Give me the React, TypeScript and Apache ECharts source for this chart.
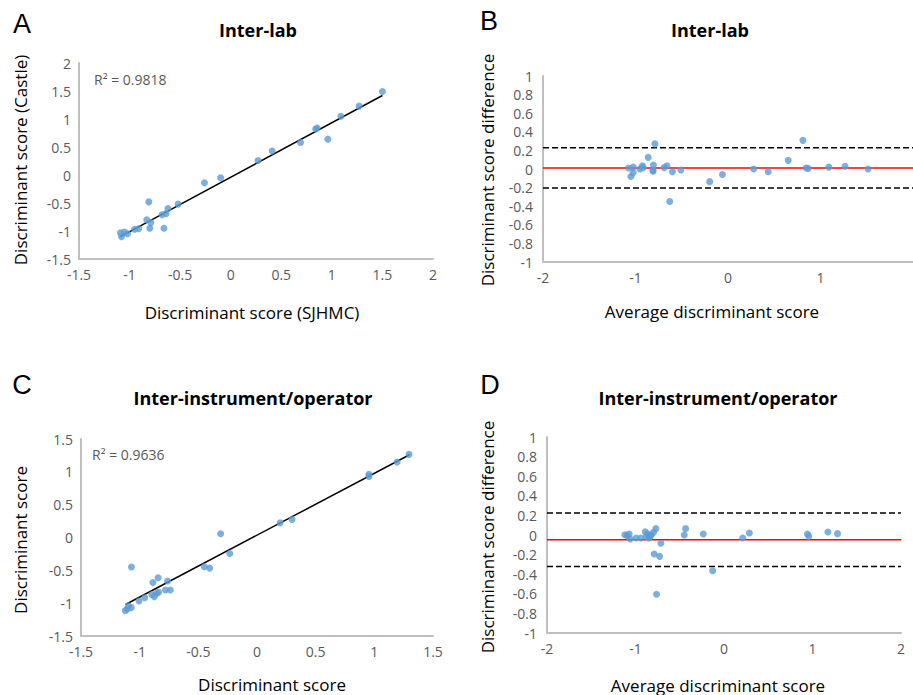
import React, { useEffect, useRef } from "react";
import * as echarts from "echarts";

// Panel A: Inter-lab scatter (SJHMC vs Castle)
const aX = [1.50, 1.27, 1.09, 0.855, 0.84, 0.96, 0.69, 0.41, 0.27, -0.10, -0.26, -0.52, -0.62, -0.64, -0.68, -0.66, -0.81, -0.83, -0.79, -0.80, -0.91, -0.95, -1.02, -1.05, -1.09, -1.08];
const aY = [1.49, 1.23, 1.05, 0.84, 0.82, 0.64, 0.58, 0.43, 0.26, -0.05, -0.14, -0.52, -0.60, -0.69, -0.71, -0.95, -0.48, -0.80, -0.85, -0.95, -0.96, -0.97, -1.05, -1.02, -1.03, -1.10];
const aTrend = [[-1.09, -1.10], [1.50, 1.42]];
const aR2 = "R² = 0.9818";

// Panel B: Inter-lab Bland-Altman
const bX = [-1.075, -1.025, -1.05, -1.025, -0.953, -0.925, -0.917, -0.863, -0.806, -0.81, -0.81, -0.79, -0.69, -0.66, -0.60, -0.63, -0.51, -0.198, -0.06, 0.277, 0.435, 0.651, 0.81, 0.845, 0.867, 1.09, 1.266, 1.514];
const bY = [0.01, 0.02, -0.08, -0.04, 0.0, 0.035, 0.015, 0.125, 0.043, -0.025, -0.015, 0.27, 0.015, 0.035, -0.03, -0.35, -0.01, -0.136, -0.06, 0.0, -0.03, 0.093, 0.308, 0.01, 0.005, 0.02, 0.03, 0.0];
const bMean = 0.01;
const bUpper = 0.228;
const bLower = -0.205;

// Panel C: Inter-instrument/operator scatter
const cX = [1.296, 1.194, 0.954, 0.954, 0.197, 0.299, -0.31, -0.232, -0.449, -0.403, -1.07, -0.843, -0.887, -0.762, -0.78, -0.739, -0.838, -0.855, -0.896, -0.875, -0.957, -1.006, -1.072, -1.096, -1.122, -1.107];
const cY = [1.266, 1.149, 0.962, 0.93, 0.223, 0.273, 0.056, -0.243, -0.446, -0.466, -0.45, -0.613, -0.684, -0.663, -0.80, -0.80, -0.835, -0.85, -0.87, -0.90, -0.917, -0.967, -1.068, -1.038, -1.114, -1.089];
const cTrend = [[-1.12, -1.02], [1.30, 1.26]];
const cR2 = "R² = 0.9636";

// Panel D: Inter-instrument/operator Bland-Altman
const dX = [-1.12, -1.094, -1.072, -1.06, -0.992, -0.94, -0.89, -0.879, -0.86, -0.849, -0.834, -0.823, -0.796, -0.77, -0.789, -0.728, -0.713, -0.762, -0.449, -0.434, -0.234, -0.128, 0.211, 0.287, 0.943, 0.958, 1.174, 1.283];
const dY = [0.003, -0.007, 0.01, -0.04, -0.03, -0.03, 0.034, -0.014, 0.01, -0.03, -0.014, 0.0, 0.027, 0.065, -0.194, -0.218, -0.085, -0.605, 0.0, 0.065, 0.01, -0.364, -0.03, 0.02, 0.01, -0.014, 0.031, 0.014];
const dMean = -0.048;
const dUpper = 0.224;
const dLower = -0.322;

const titles = ["Inter-lab", "Inter-lab", "Inter-instrument/operator", "Inter-instrument/operator"];
const letters = ["A", "B", "C", "D"];
const xNames = ["Discriminant score (SJHMC)", "Average discriminant score", "Discriminant score", "Average discriminant score"];
const yNames = ["Discriminant score (Castle)", "Discriminant score difference", "Discriminant score", "Discriminant score difference"];

const FONT = "'Open Sans', 'Noto Sans', sans-serif";
const DOT = "#5b9bd5";
const AXIS = "#bfbfbf";
const TICK = "#595959";

const zip = (xs: number[], ys: number[]) => xs.map((x, i) => [x, ys[i]]);

export default function App() {
  const ref = useRef<HTMLDivElement>(null);
  useEffect(() => {
    document.body.style.margin = "0";
    if (!ref.current) return;
    const chart = echarts.init(ref.current, undefined, { renderer: "svg" });

    const grids = [
      { left: 79, top: 63, width: 354, height: 196 },
      { left: 543, top: 76, width: 372, height: 186 },
      { left: 81, top: 439, width: 352, height: 197 },
      { left: 547, top: 437, width: 354, height: 196 },
    ];
    const xr = [[-1.5, 2, 0.5], [-2, 2, 1], [-1.5, 1.5, 0.5], [-2, 2, 1]];
    const yr = [[-1.5, 2, 0.5], [-1, 1, 0.2], [-1.5, 1.5, 0.5], [-1, 1, 0.2]];

    const axisCommon = {
      axisLine: { show: true, onZero: false, lineStyle: { color: AXIS, width: 2 } },
      axisTick: { show: false },
      splitLine: { show: false },
    };

    const xAxis = xr.map((r, i) => ({
      type: "value",
      gridIndex: i,
      min: r[0],
      max: r[1],
      interval: r[2],
      ...axisCommon,
      axisLabel: { color: TICK, fontSize: 14, fontFamily: FONT, margin: 8, showMaxLabel: i !== 1 },
    }));
    const yAxis = yr.map((r, i) => ({
      type: "value",
      gridIndex: i,
      min: r[0],
      max: r[1],
      interval: r[2],
      ...axisCommon,
      axisLabel: { color: TICK, fontSize: 14, fontFamily: FONT, margin: i % 2 === 1 ? 10 : 8 },
    }));

    const scatter = (data: number[][], idx: number) => ({
      type: "scatter",
      xAxisIndex: idx,
      yAxisIndex: idx,
      data,
      symbolSize: 7,
      itemStyle: { color: DOT },
      z: 3,
    });
    const line = (data: number[][], idx: number, color: string, type: string) => ({
      type: "line",
      xAxisIndex: idx,
      yAxisIndex: idx,
      data,
      symbol: "none",
      lineStyle: { color, width: 1.5, type },
      z: 2,
    });

    const series = [
      scatter(zip(aX, aY), 0),
      line(aTrend, 0, "#000", "solid"),
      line([[-2, bMean], [2, bMean]], 1, "#ff0000", "solid"),
      line([[-2, bUpper], [2, bUpper]], 1, "#000", "dashed"),
      line([[-2, bLower], [2, bLower]], 1, "#000", "dashed"),
      scatter(zip(bX, bY), 1),
      scatter(zip(cX, cY), 2),
      line(cTrend, 2, "#000", "solid"),
      line([[-2, dMean], [2, dMean]], 3, "#ff0000", "solid"),
      line([[-2, dUpper], [2, dUpper]], 3, "#000", "dashed"),
      line([[-2, dLower], [2, dLower]], 3, "#000", "dashed"),
      scatter(zip(dX, dY), 3),
    ];

    const titlePos = [[258, 30], [710, 30], [253, 398], [718, 398]];
    const letterPos = [[22, 24], [489, 21], [22, 385], [490, 385]];
    const xNamePos = [[252, 312], [712, 311], [272, 684], [718, 685]];
    const yNamePos = [[20, 160], [487, 170], [20, 540], [487, 537]];
    const r2Pos = [[94, 79], [92, 454]];

    const graphic: any[] = [];
    for (let i = 0; i < 4; i++) {
      graphic.push({
        type: "text", x: titlePos[i][0], y: titlePos[i][1],
        style: { text: titles[i], fontFamily: FONT, fontSize: 18, fontWeight: "bold", fill: "#000", align: "center", verticalAlign: "middle" },
      });
      graphic.push({
        type: "text", x: letterPos[i][0], y: letterPos[i][1],
        style: { text: letters[i], fontFamily: "'Liberation Sans', Arial, sans-serif", fontSize: 27, fill: "#000", align: "center", verticalAlign: "middle" },
      });
      graphic.push({
        type: "text", x: xNamePos[i][0], y: xNamePos[i][1],
        style: { text: xNames[i], fontFamily: FONT, fontSize: 17, fill: "#000", align: "center", verticalAlign: "middle" },
      });
      graphic.push({
        type: "text", x: yNamePos[i][0], y: yNamePos[i][1], rotation: Math.PI / 2,
        style: { text: yNames[i], fontFamily: FONT, fontSize: 17, fill: "#000", align: "center", verticalAlign: "middle" },
      });
    }
    [aR2, cR2].forEach((t, i) => {
      graphic.push({
        type: "text", x: r2Pos[i][0], y: r2Pos[i][1],
        style: { text: t, fontFamily: FONT, fontSize: 14, fill: TICK, align: "left", verticalAlign: "middle" },
      });
    });

    chart.setOption({
      animation: false,
      backgroundColor: "#fff",
      grid: grids.map((g) => ({ ...g, containLabel: false })),
      xAxis,
      yAxis,
      series,
      graphic,
    });
    return () => chart.dispose();
  }, []);
  return <div ref={ref} style={{ width: 913, height: 695 }} />;
}
